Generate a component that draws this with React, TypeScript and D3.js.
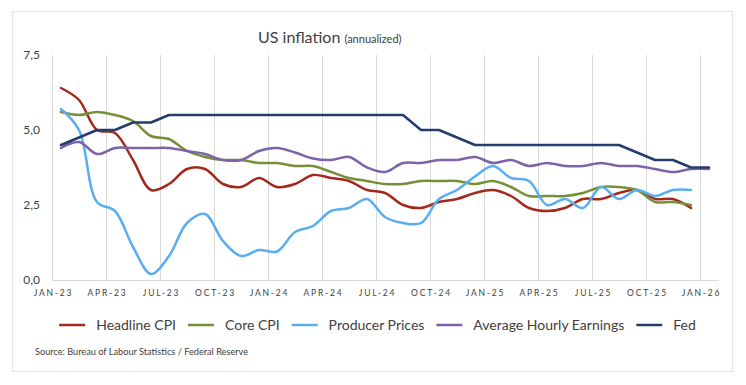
import React, { useEffect, useRef } from "react";
import * as d3 from "d3";

const months = d3
  .timeMonth.range(new Date(2023, 0, 1), new Date(2026, 1, 1))
  .map((d) => d3.timeFormat("%b-%y")(d).toUpperCase());

const tickLabels = [
  "JAN-23", "APR-23", "JUL-23", "OCT-23", "JAN-24", "APR-24", "JUL-24",
  "OCT-24", "JAN-25", "APR-25", "JUL-25", "OCT-25", "JAN-26",
];
const yTicks = [0, 2.5, 5, 7.5];

const headlineCpi = [
  6.4, 6.0, 5.0, 4.9, 4.0, 3.0, 3.2, 3.7, 3.7, 3.2, 3.1, 3.4,
  3.1, 3.2, 3.5, 3.4, 3.3, 3.0, 2.9, 2.5, 2.4, 2.6, 2.7, 2.9,
  3.0, 2.8, 2.4, 2.3, 2.4, 2.7, 2.7, 2.9, 3.0, 2.7, 2.7, 2.4,
];
const coreCpi = [
  5.6, 5.5, 5.6, 5.5, 5.3, 4.8, 4.7, 4.3, 4.1, 4.0, 4.0, 3.9,
  3.9, 3.8, 3.8, 3.6, 3.4, 3.3, 3.2, 3.2, 3.3, 3.3, 3.3, 3.2,
  3.3, 3.1, 2.8, 2.8, 2.8, 2.9, 3.1, 3.1, 3.0, 2.6, 2.6, 2.5,
];
const producerPrices = [
  5.7, 5.0, 2.6, 2.3, 1.1, 0.2, 0.8, 1.9, 2.2, 1.3, 0.8, 1.0,
  0.95, 1.6, 1.8, 2.3, 2.4, 2.7, 2.1, 1.9, 1.9, 2.7, 3.0, 3.45,
  3.8, 3.4, 3.3, 2.5, 2.7, 2.4, 3.1, 2.7, 3.0, 2.8, 3.0, 3.0,
];
const hourlyEarnings = [
  4.4, 4.6, 4.2, 4.4, 4.4, 4.4, 4.4, 4.3, 4.2, 4.0, 4.0, 4.3,
  4.4, 4.25, 4.05, 4.0, 4.1, 3.75, 3.6, 3.9, 3.9, 4.0, 4.0, 4.1,
  3.9, 4.0, 3.8, 3.9, 3.8, 3.8, 3.9, 3.8, 3.8, 3.7, 3.6, 3.7, 3.7,
];
const fedRate = [
  4.5, 4.75, 5.0, 5.0, 5.25, 5.25, 5.5, 5.5, 5.5, 5.5, 5.5, 5.5,
  5.5, 5.5, 5.5, 5.5, 5.5, 5.5, 5.5, 5.5, 5.0, 5.0, 4.75, 4.5,
  4.5, 4.5, 4.5, 4.5, 4.5, 4.5, 4.5, 4.5, 4.25, 4.0, 4.0, 3.75, 3.75,
];

const series = [
  { name: "Headline CPI", values: headlineCpi, color: "#a3291c", smooth: true },
  { name: "Core CPI", values: coreCpi, color: "#76903a", smooth: true },
  { name: "Producer Prices", values: producerPrices, color: "#58aef0", smooth: true },
  { name: "Average Hourly Earnings", values: hourlyEarnings, color: "#7d63a8", smooth: true },
  { name: "Fed", values: fedRate, color: "#253c6c", smooth: false },
];

const W = 746;
const H = 385;
const FONT = "Lato, 'Noto Sans', sans-serif";

function InflationChart() {
  const svgRef = useRef<SVGSVGElement>(null);

  useEffect(() => {
    const svg = d3.select(svgRef.current);
    svg.selectAll("*").remove();

    const left = 52;
    const right = 718;
    const top = 55;
    const bottom = 280;

    const xScale = d3.scaleBand<string>().domain(months).range([left, right]);
    const yScale = d3.scaleLinear().domain([0, 7.5]).range([bottom, top]);
    const mid = (i: number) => (xScale(months[i]) as number) + xScale.bandwidth() / 2;

    // frame
    svg
      .append("rect")
      .attr("x", 12.5)
      .attr("y", 11.5)
      .attr("width", 720)
      .attr("height", 360)
      .attr("fill", "#fff")
      .attr("stroke", "#e3e3e3");

    // vertical grid + x labels
    const ticks = svg.append("g");
    tickLabels.forEach((t) => {
      const x = Math.round(xScale(t) as number) + 0.5;
      ticks
        .append("line")
        .attr("x1", x)
        .attr("x2", x)
        .attr("y1", top)
        .attr("y2", bottom)
        .attr("stroke", "#d9d9d9");
      ticks
        .append("text")
        .attr("x", x + 1)
        .attr("y", 296)
        .attr("text-anchor", "middle")
        .attr("font-size", 8.5)
        .attr("letter-spacing", 1.8)
        .attr("fill", "#404040")
        .text(t);
    });

    svg
      .append("line")
      .attr("x1", left)
      .attr("x2", right + 1)
      .attr("y1", bottom + 0.5)
      .attr("y2", bottom + 0.5)
      .attr("stroke", "#d9d9d9");

    // y labels
    svg
      .append("g")
      .selectAll("text")
      .data(yTicks)
      .join("text")
      .attr("x", 40)
      .attr("y", (d) => yScale(d))
      .attr("dy", "0.35em")
      .attr("text-anchor", "end")
      .attr("font-size", 12)
      .attr("fill", "#404040")
      .text((d) => d3.format(".1f")(d).replace(".", ","));

    // lines
    const smoothLine = d3
      .line<number>()
      .x((_, i) => mid(i))
      .y((d) => yScale(d))
      .curve(d3.curveCatmullRom.alpha(0.5));
    const straightLine = d3
      .line<number>()
      .x((_, i) => mid(i))
      .y((d) => yScale(d));

    svg
      .append("g")
      .selectAll("path")
      .data(series)
      .join("path")
      .attr("d", (s) => (s.smooth ? smoothLine(s.values) : straightLine(s.values)))
      .attr("fill", "none")
      .attr("stroke", (s) => s.color)
      .attr("stroke-width", 2.5)
      .attr("stroke-linejoin", "round")
      .attr("stroke-linecap", "round");

    // title
    const title = svg
      .append("text")
      .attr("x", 258)
      .attr("y", 43)
      .attr("fill", "#404040")
      .attr("font-size", 16);
    title.append("tspan").text("US inflation ");
    title.append("tspan").attr("font-size", 11).text("(annualized)");

    // legend
    const legend = svg.append("g");
    let lx = 0;
    series.forEach((s) => {
      const g = legend.append("g").attr("transform", `translate(${lx},0)`);
      g.append("line")
        .attr("x1", 0)
        .attr("x2", 26)
        .attr("y1", 325)
        .attr("y2", 325)
        .attr("stroke", s.color)
        .attr("stroke-width", 2.5);
      const txt = g
        .append("text")
        .attr("x", 37)
        .attr("y", 330)
        .attr("font-size", 14)
        .attr("fill", "#404040")
        .text(s.name);
      const w = (txt.node() as SVGTextElement).getComputedTextLength();
      lx += 37 + w + 12;
    });
    const total = lx - 12;
    legend.attr("transform", `translate(${377.5 - total / 2},0)`);

    svg
      .append("text")
      .attr("x", 35)
      .attr("y", 355)
      .attr("font-size", 9.2)
      .attr("fill", "#404040")
      .text("Source: Bureau of Labour Statistics / Federal Reserve");
  }, []);

  return (
    <svg
      ref={svgRef}
      width={W}
      height={H}
      style={{ display: "block", fontFamily: FONT }}
    />
  );
}

export default function App() {
  return (
    <div style={{ position: "absolute", left: 0, top: 0, background: "#fff" }}>
      <InflationChart />
    </div>
  );
}
